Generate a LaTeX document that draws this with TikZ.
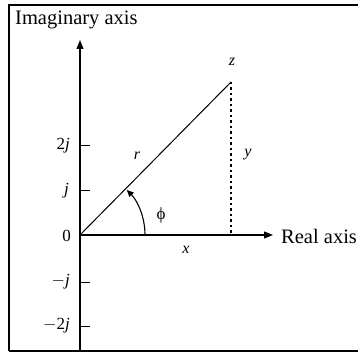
\documentclass[tikz,border=0pt]{standalone}
\usepackage{fontspec}
\setmainfont{Liberation Serif}
\usetikzlibrary{arrows.meta}
\begin{document}
\begin{tikzpicture}[x=1pt,y=-1pt,
  axis/.style={line width=1.1pt,-{Triangle[length=9pt,width=7pt]}},
  frameline/.style={line width=1.4pt},
  tick/.style={line width=1pt},
  lbl/.style={font=\fontsize{17}{19}\selectfont,inner sep=0pt},
  varl/.style={font=\fontsize{16}{18}\selectfont\itshape,inner sep=0pt},
  big/.style={font=\fontsize{20.5}{22}\selectfont,inner sep=0pt}]
\useasboundingbox (0,0) rectangle (358,352);
% frame
\draw[frameline] (9,351) -- (9,5) -- (360,5);
\draw[frameline] (9,351) -- (360,351);
% coordinates
\coordinate (O) at (80,235);
\coordinate (ytop) at (80,40);
\coordinate (ybot) at (80,355);
\coordinate (xend) at (273,235);
\coordinate (z) at (231,82);
\coordinate (zfoot) at (231,235);
% axes
\draw[axis] (ybot) -- (ytop);
\draw[axis] (O) -- (xend);
% ticks
\foreach \yy in {146,191,282,326}{
  \draw[tick] (80,\yy) -- (90,\yy);
}
\node[lbl,anchor=east] (l2) at (70,146) {2\textit{j}};
\node[lbl,anchor=east] (l1) at (69,191) {\textit{j}};
\node[lbl,anchor=east] (l0) at (71,236) {0};
\node[lbl,anchor=east] (lm1) at (70,282) {$-$\textit{j}};
\node[lbl,anchor=east] (lm2) at (70,326) {$-$2\textit{j}};
% vector
\draw[line width=1pt] (O) -- (z);
\draw[line width=1.2pt,dash pattern=on 2.5pt off 3pt] (z) -- (zfoot);
% angle arc
\draw[line width=1.1pt,-{Triangle[length=7pt,width=6pt]}] (145,235) arc[start angle=0,end angle=-44,radius=65];
% labels
\node[varl] (zl) at (232,62) {z};
\node[varl] (rl) at (137,156) {r};
\node[varl] (yl) at (248,155) {y};
\node[varl] (xl) at (186,250) {x};
\node[lbl] (phi) at (161,215) {\symbol{"03D5}};
\node[big,anchor=west] (ia) at (15,20) {Imaginary axis};
\node[big,anchor=west] (ra) at (281,236) {Real axis};
\end{tikzpicture}
\end{document}
